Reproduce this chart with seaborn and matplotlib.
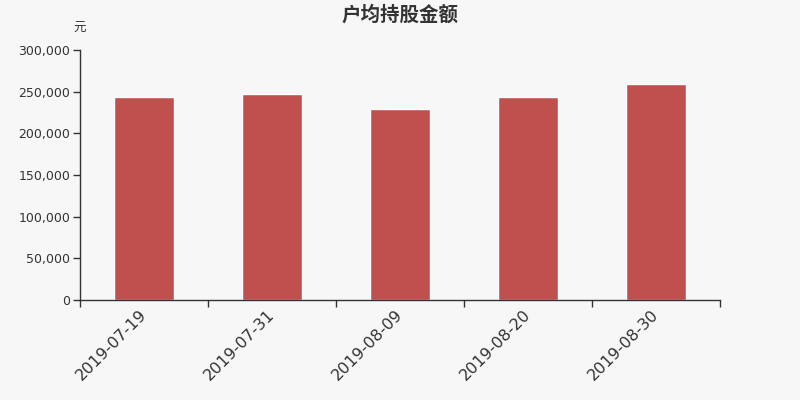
import matplotlib
matplotlib.use("Agg")
import matplotlib.pyplot as plt
import seaborn as sns
import pandas as pd
import numpy as np
from matplotlib.ticker import FuncFormatter, FixedLocator

dates = ["2019-07-19", "2019-07-31", "2019-08-09", "2019-08-20", "2019-08-30"]
values = [243600, 247000, 228800, 243600, 259200]
yticks = [0, 50000, 100000, 150000, 200000, 250000, 300000]

sns.set_theme(style="white")
plt.rcParams['font.family'] = ['Noto Sans CJK SC', 'DejaVu Sans']

bg = "#f7f7f7"
txt = "#333333"
fig = plt.figure(figsize=(8, 4), dpi=100, facecolor=bg)
ax = fig.add_axes([0.1, 0.25, 0.8, 0.625])
ax.set_facecolor(bg)

df = pd.DataFrame({"date": dates, "value": values})
sns.barplot(data=df, x="date", y="value", color="#c0504d", saturation=1,
            width=0.47, ax=ax)

ax.set_xlim(-0.5, len(dates) - 0.5)
ax.set_ylim(0, 300000)
ax.set_yticks(yticks)
ax.yaxis.set_major_formatter(FuncFormatter(lambda v, p: f"{int(v):,}"))
for lab in ax.get_yticklabels():
    lab.set_fontfamily("DejaVu Sans")
ax.set_xticks(range(len(dates)))
ax.set_xticklabels(dates, rotation=45, ha="right", va="center",
                   rotation_mode="anchor", fontsize=11.5, color=txt,
                   family="DejaVu Sans")
ax.xaxis.set_minor_locator(FixedLocator(np.arange(-0.5, len(dates), 1.0)))
ax.tick_params(axis="x", which="major", length=0, pad=9)
ax.tick_params(axis="x", which="minor", length=5, width=1, color=txt, bottom=True)
ax.tick_params(axis="y", length=5, width=1, color=txt, labelsize=9,
               labelcolor=txt, left=True, pad=2)
ax.set_xlabel("")
ax.set_ylabel("")
for s in ["top", "right"]:
    ax.spines[s].set_visible(False)
for s in ["left", "bottom"]:
    ax.spines[s].set_color(txt)
    ax.spines[s].set_linewidth(1)

fig.text(0.5, 0.963, "户均持股金额", ha="center", va="center", fontsize=14,
         fontweight="bold", color=txt)
fig.text(0.099, 0.928, "元", ha="center", va="center", fontsize=9, color=txt)

fig.savefig("out.png", dpi=100, facecolor=bg)
